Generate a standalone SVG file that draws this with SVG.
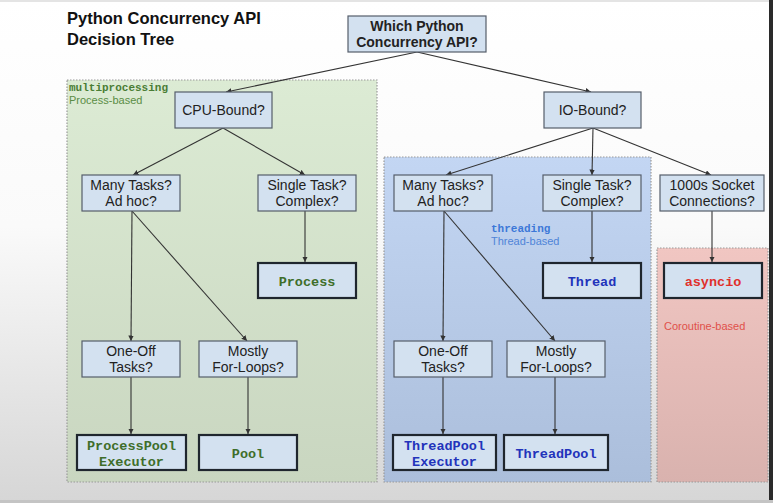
<svg xmlns="http://www.w3.org/2000/svg" width="773" height="503" viewBox="0 0 773 503">
<defs>
<linearGradient id="bg" x1="0" y1="0" x2="0" y2="1">
<stop offset="0" stop-color="#ffffff"/>
<stop offset="0.45" stop-color="#fafafa"/>
<stop offset="1" stop-color="#d6d6d6"/>
</linearGradient>
<linearGradient id="gG" x1="0" y1="0" x2="0" y2="1">
<stop offset="0" stop-color="#dcebd4"/>
<stop offset="1" stop-color="#c9d6c0"/>
</linearGradient>
<linearGradient id="gB" x1="0" y1="0" x2="0" y2="1">
<stop offset="0" stop-color="#c3d6f3"/>
<stop offset="1" stop-color="#abbedb"/>
</linearGradient>
<linearGradient id="gR" x1="0" y1="0" x2="0" y2="1">
<stop offset="0" stop-color="#f1c6c2"/>
<stop offset="1" stop-color="#d9b2ae"/>
</linearGradient>
<marker id="ah" viewBox="0 0 10 10" refX="10" refY="5" markerWidth="5" markerHeight="5" orient="auto">
<path d="M0,0 L10,5 L0,10 z" fill="#333"/>
</marker>
<style>
.q{fill:#d3e1f0;stroke:#555e6a;stroke-width:1.2}
.r{fill:#d3e1f0;stroke:#1f262e;stroke-width:2.2}
.t{font-family:"Liberation Sans",Arial,sans-serif;font-size:14px;fill:#222;text-anchor:middle}
.tb{font-family:"Liberation Sans",Arial,sans-serif;font-size:14px;font-weight:bold;fill:#222;text-anchor:middle}
.m{font-family:"Liberation Mono","Courier New",monospace;font-size:13.5px;font-weight:bold;text-anchor:middle}
.reg{stroke:#9a9a9a;stroke-width:1.2;stroke-dasharray:1.5 1.5}
.c line{stroke:#333;stroke-width:1.1;marker-end:url(#ah)}
</style>
</defs>
<rect x="0" y="0" width="773" height="503" fill="url(#bg)"/>
<rect x="0" y="0" width="773" height="2" fill="#e4e4e4"/>
<rect x="769" y="0" width="4" height="503" fill="#2a2a2a"/>
<rect x="0" y="500" width="773" height="3" fill="#c4c4c4"/>

<g id="title">
<text x="67" y="24" font-family="Liberation Sans,Arial,sans-serif" font-size="16.5" font-weight="bold" fill="#111">Python Concurrency API</text>
<text x="67" y="45" font-family="Liberation Sans,Arial,sans-serif" font-size="16.5" font-weight="bold" fill="#111">Decision Tree</text>
</g>

<g id="region-multiprocessing">
<rect class="reg" x="67" y="80" width="310" height="402" fill="url(#gG)"/>
<text x="69" y="91" font-family="Liberation Mono,Courier New,monospace" font-size="11" font-weight="bold" fill="#4a7d35">multiprocessing</text>
<text x="69" y="104" font-family="Liberation Sans,Arial,sans-serif" font-size="11" fill="#5a8d45">Process-based</text>
</g>
<g id="region-threading">
<rect class="reg" x="384" y="157" width="267" height="325" fill="url(#gB)"/>
<text x="491" y="232" font-family="Liberation Mono,Courier New,monospace" font-size="11" font-weight="bold" fill="#3c78d8">threading</text>
<text x="491" y="245" font-family="Liberation Sans,Arial,sans-serif" font-size="11" fill="#4f84d8">Thread-based</text>
</g>
<g id="region-asyncio">
<rect class="reg" x="657" y="248" width="111" height="234" fill="url(#gR)"/>
<text x="664" y="330" font-family="Liberation Sans,Arial,sans-serif" font-size="11" fill="#e0504a">Coroutine-based</text>
</g>

<g class="c" id="connectors">
<line x1="417" y1="52" x2="226" y2="92"/>
<line x1="417" y1="52" x2="591" y2="92"/>
<line x1="223" y1="128" x2="133" y2="175"/>
<line x1="223" y1="128" x2="305" y2="175"/>
<line x1="593" y1="128" x2="446" y2="175"/>
<line x1="593" y1="128" x2="592" y2="175"/>
<line x1="593" y1="128" x2="711" y2="175"/>
<line x1="132" y1="211" x2="131" y2="341"/>
<line x1="132" y1="211" x2="247" y2="341"/>
<line x1="305" y1="211" x2="305" y2="262"/>
<line x1="131" y1="377" x2="131" y2="434"/>
<line x1="248" y1="377" x2="248" y2="434"/>
<line x1="444" y1="211" x2="443" y2="341"/>
<line x1="444" y1="211" x2="555" y2="341"/>
<line x1="592" y1="211" x2="592" y2="262"/>
<line x1="712" y1="211" x2="712" y2="262"/>
<line x1="443" y1="377" x2="443" y2="434"/>
<line x1="555" y1="377" x2="555" y2="434"/>
</g>

<g id="root">
<rect class="q" x="348" y="16" width="138" height="36"/>
<text class="tb" x="417" y="31">Which Python</text>
<text class="tb" x="417" y="47">Concurrency API?</text>
</g>
<g id="cpu">
<rect class="q" x="175" y="92" width="97" height="36"/>
<text class="t" x="223.5" y="115">CPU-Bound?</text>
</g>
<g id="io">
<rect class="q" x="544" y="92" width="97" height="36"/>
<text class="t" x="592.5" y="115">IO-Bound?</text>
</g>

<g id="mp-many">
<rect class="q" x="82" y="175" width="98" height="36"/>
<text class="t" x="131" y="190">Many Tasks?</text>
<text class="t" x="131" y="206">Ad hoc?</text>
</g>
<g id="mp-single">
<rect class="q" x="258" y="175" width="98" height="36"/>
<text class="t" x="307" y="190">Single Task?</text>
<text class="t" x="307" y="206">Complex?</text>
</g>
<g id="process">
<rect class="r" x="258" y="263" width="98" height="35"/>
<text class="m" x="307" y="286" fill="#3f6e2a">Process</text>
</g>
<g id="mp-oneoff">
<rect class="q" x="82" y="341" width="98" height="36"/>
<text class="t" x="131" y="356">One-Off</text>
<text class="t" x="131" y="372">Tasks?</text>
</g>
<g id="mp-loops">
<rect class="q" x="199" y="341" width="98" height="36"/>
<text class="t" x="248" y="356">Mostly</text>
<text class="t" x="248" y="372">For-Loops?</text>
</g>
<g id="ppe">
<rect class="r" x="77" y="435" width="109" height="35"/>
<text class="m" x="131.5" y="450" fill="#3f6e2a">ProcessPool</text>
<text class="m" x="131.5" y="466" fill="#3f6e2a">Executor</text>
</g>
<g id="pool">
<rect class="r" x="199" y="435" width="98" height="35"/>
<text class="m" x="248" y="458" fill="#3f6e2a">Pool</text>
</g>

<g id="th-many">
<rect class="q" x="394" y="175" width="98" height="36"/>
<text class="t" x="443" y="190">Many Tasks?</text>
<text class="t" x="443" y="206">Ad hoc?</text>
</g>
<g id="th-single">
<rect class="q" x="543" y="175" width="98" height="36"/>
<text class="t" x="592" y="190">Single Task?</text>
<text class="t" x="592" y="206">Complex?</text>
</g>
<g id="socket">
<rect class="q" x="660" y="175" width="104" height="36"/>
<text class="t" x="712" y="190">1000s Socket</text>
<text class="t" x="712" y="206">Connections?</text>
</g>
<g id="thread">
<rect class="r" x="543" y="263" width="98" height="35"/>
<text class="m" x="592" y="286" fill="#2233bb">Thread</text>
</g>
<g id="asyncio">
<rect class="r" x="664" y="263" width="98" height="35"/>
<text class="m" x="713" y="286" fill="#e0302c">asyncio</text>
</g>
<g id="th-oneoff">
<rect class="q" x="394" y="341" width="98" height="36"/>
<text class="t" x="443" y="356">One-Off</text>
<text class="t" x="443" y="372">Tasks?</text>
</g>
<g id="th-loops">
<rect class="q" x="507" y="341" width="98" height="36"/>
<text class="t" x="556" y="356">Mostly</text>
<text class="t" x="556" y="372">For-Loops?</text>
</g>
<g id="tpe">
<rect class="r" x="393" y="435" width="103" height="35"/>
<text class="m" x="444.5" y="450" fill="#2233bb">ThreadPool</text>
<text class="m" x="444.5" y="466" fill="#2233bb">Executor</text>
</g>
<g id="threadpool">
<rect class="r" x="504" y="435" width="104" height="35"/>
<text class="m" x="556" y="458" fill="#2233bb">ThreadPool</text>
</g>
</svg>
